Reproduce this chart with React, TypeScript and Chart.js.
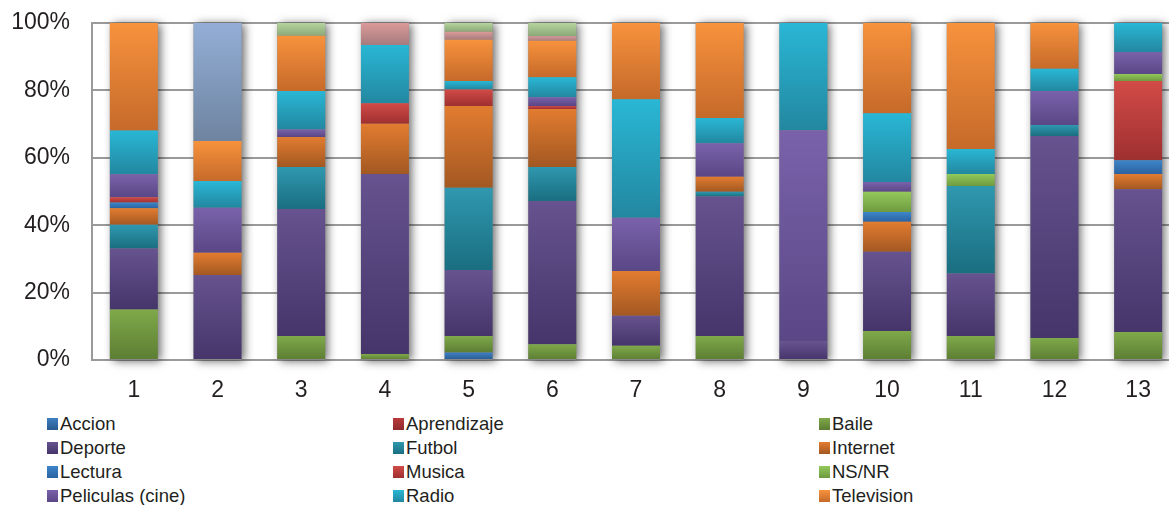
import React, { useEffect, useRef } from "react";
import { Chart, registerables } from "chart.js";

Chart.register(...registerables);

const categories = ["1", "2", "3", "4", "5", "6", "7", "8", "9", "10", "11", "12", "13"];
const yTicks = [0, 20, 40, 60, 80, 100];

const seriesNames = [
  "Accion", "Aprendizaje", "Baile", "Deporte", "Futbol", "Internet",
  "Lectura", "Musica", "NS/NR", "Peliculas (cine)", "Radio", "Television",
  "Serie 13", "Serie 14", "Serie 15",
];

const accion = [0, 0, 0, 0, 2.2, 0, 0, 0, 0, 0, 0, 0, 0];
const aprendizaje = [0, 0, 0, 0, 0, 0, 0, 0, 0, 0, 0, 0, 0];
const baile = [15, 0, 7.1, 1.8, 4.9, 4.7, 4.2, 7.1, 0, 8.6, 7.1, 6.5, 8.3];
const deporte = [18.1, 25.2, 37.7, 53.4, 19.6, 42.5, 8.9, 41.4, 5.4, 23.5, 18.6, 60.0, 42.4];
const futbol = [7.0, 0, 12.5, 0, 24.4, 10.1, 0, 1.4, 0, 0, 25.9, 3.2, 0];
const internet = [4.9, 6.6, 8.9, 14.9, 24.3, 17.2, 13.3, 4.5, 0, 8.9, 0, 0, 4.5];
const lectura = [1.7, 0, 0, 0, 0, 0, 0, 0, 0, 2.9, 0, 0, 4.1];
const musica = [1.6, 0, 0, 6.1, 4.9, 0.9, 0, 0, 0, 0, 0, 0, 23.5];
const nsnr = [0, 0, 0, 0, 0, 0, 0, 0, 0, 6.0, 3.6, 0, 2.1];
const peliculas = [6.8, 13.4, 2.2, 0, 0, 2.6, 15.8, 9.9, 62.8, 2.9, 0, 10.1, 6.5];
const radio = [13, 7.9, 11.4, 17.3, 2.5, 5.9, 35.2, 7.5, 31.8, 20.4, 7.4, 6.6, 8.6];
const television = [31.9, 11.9, 16.4, 0, 12.2, 10.8, 22.6, 28.2, 0, 26.8, 37.4, 13.6, 0];
const serie13 = [0, 35, 0, 0, 0, 0, 0, 0, 0, 0, 0, 0, 0];
const serie14 = [0, 0, 0, 6.5, 2.4, 1.4, 0, 0, 0, 0, 0, 0, 0];
const serie15 = [0, 0, 3.8, 0, 2.6, 3.9, 0, 0, 0, 0, 0, 0, 0];

const seriesValues = [
  accion, aprendizaje, baile, deporte, futbol, internet,
  lectura, musica, nsnr, peliculas, radio, television,
  serie13, serie14, serie15,
];

const topColors = [
  "#3F7FC2", "#B8393B", "#7FA94A", "#66538F", "#2F98AF", "#E27C30",
  "#3D86C9", "#D24B47", "#93C95B", "#7A62AA", "#29B7D5", "#F7923D",
  "#93AED6", "#DB9A99", "#B5D49D",
];
const bottomColors = [
  "#285A8E", "#8E2A2D", "#5C7D33", "#45356A", "#1A6E80", "#A35822",
  "#2B62A0", "#9E3030", "#6E9A40", "#5A4786", "#2387A0", "#C66A2A",
  "#6E84A0", "#A67B7D", "#8BA877",
];

const legendCount = 12;

export default function App() {
  const canvasRef = useRef<HTMLCanvasElement | null>(null);

  useEffect(() => {
    const canvas = canvasRef.current;
    if (!canvas) return;

    const shadowPlugin = {
      id: "barShadow",
      beforeDatasetsDraw(chart: any) {
        const meta = chart.getDatasetMeta(0);
        const ys = chart.scales.y;
        const ctx = chart.ctx;
        const top = ys.getPixelForValue(100);
        const bottom = ys.getPixelForValue(0);
        ctx.save();
        ctx.shadowColor = "rgba(0,0,0,0.6)";
        ctx.shadowBlur = 9;
        ctx.shadowOffsetX = 3;
        ctx.shadowOffsetY = 1;
        ctx.fillStyle = "#888";
        meta.data.forEach((el: any) => {
          const w = el.width;
          ctx.fillRect(el.x - w / 2, top, w, bottom - top);
        });
        ctx.restore();
      },
    };

    const datasets = seriesNames.map((name, si) => ({
      label: name,
      data: seriesValues[si],
      borderWidth: 0,
      backgroundColor: (c: any) => {
        if (c.type !== "data") return topColors[si];
        const chart = c.chart;
        const ys = chart.scales && chart.scales.y;
        if (!ys) return topColors[si];
        const di = c.dataIndex;
        let start = 0;
        for (let k = 0; k < si; k++) start += seriesValues[k][di];
        const end = start + seriesValues[si][di];
        const y0 = ys.getPixelForValue(end);
        const y1 = ys.getPixelForValue(start);
        if (!isFinite(y0) || !isFinite(y1) || y0 === y1) return topColors[si];
        const g = chart.ctx.createLinearGradient(0, y0, 0, y1);
        g.addColorStop(0, topColors[si]);
        g.addColorStop(1, bottomColors[si]);
        return g;
      },
      barPercentage: 0.573,
      categoryPercentage: 1,
    }));

    const chart = new Chart(canvas, {
      type: "bar",
      data: { labels: categories, datasets },
      plugins: [shadowPlugin],
      options: {
        responsive: false,
        animation: false,
        layout: { padding: { left: 0, right: 20, top: 23, bottom: 0 } },
        plugins: {
          legend: { display: false },
          tooltip: { enabled: false },
        },
        scales: {
          x: {
            stacked: true,
            grid: { display: false, drawTicks: false },
            border: { display: true, color: "#9a9a9a", width: 2 },
            ticks: {
              color: "#231f20",
              font: { family: "'Liberation Sans', Arial, sans-serif", size: 23 },
              padding: 17,
            },
            afterFit: (s: any) => {
              s.height = 40;
              s.paddingLeft = 0;
              s.paddingRight = 0;
            },
          },
          y: {
            stacked: true,
            min: 0,
            max: 100,
            afterBuildTicks: (s: any) => {
              s.ticks = yTicks.map((v) => ({ value: v }));
            },
            grid: { color: "#9a9a9a", lineWidth: 2, drawTicks: false },
            border: { display: true, color: "#9a9a9a", width: 2 },
            ticks: {
              color: "#231f20",
              font: { family: "'Liberation Sans', Arial, sans-serif", size: 23 },
              padding: 22,
              callback: (v: any) => v + "%",
            },
            afterFit: (s: any) => {
              s.width = 92;
              s.paddingTop = 0;
              s.paddingBottom = 0;
            },
          },
        },
      },
    });

    return () => chart.destroy();
  }, []);

  const colLeft = [47, 393, 819];
  const rowTop = [424, 448, 472, 496];

  return (
    <div
      style={{
        position: "fixed",
        left: 0,
        top: 0,
        width: 1169,
        height: 505,
        overflow: "hidden",
        background: "#fff",
      }}
    >
      <canvas
        ref={canvasRef}
        width={1200}
        height={400}
        style={{ position: "absolute", left: 0, top: 0, width: 1200, height: 400 }}
      />
      {seriesNames.slice(0, legendCount).map((name, i) => {
        const col = i % 3;
        const row = Math.floor(i / 3);
        return (
          <div
            key={name}
            style={{
              position: "absolute",
              left: colLeft[col],
              top: rowTop[row] - 12,
              height: 24,
              display: "flex",
              alignItems: "center",
              fontFamily: "'Liberation Sans', Arial, sans-serif",
              fontSize: 18.5,
              color: "#231f20",
              whiteSpace: "nowrap",
            }}
          >
            <span
              style={{
                display: "inline-block",
                width: 11,
                height: 12,
                marginRight: 2,
                background: `linear-gradient(${topColors[i]}, ${bottomColors[i]})`,
              }}
            />
            <span>{name}</span>
          </div>
        );
      })}
    </div>
  );
}
